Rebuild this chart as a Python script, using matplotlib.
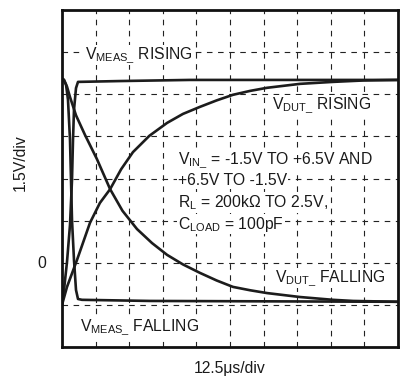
import matplotlib
matplotlib.use("Agg")
import matplotlib.pyplot as plt
import numpy as np

plt.rcParams['font.family'] = ['Liberation Sans', 'DejaVu Sans']
plt.rcParams['mathtext.fontset'] = 'custom'
plt.rcParams['mathtext.rm'] = 'Liberation Sans'

# time axis in microseconds, voltages in volts
t_meas_rise = [0, 0.74, 1.86, 2.98, 3.72, 4.09, 4.46, 5.21, 5.95, 21.6, 47.6, 125]
v_meas_rise = [-1.50, -0.97, 0.03, 1.35, 2.95, 4.37, 5.44, 6.22, 6.44, 6.47, 6.51, 6.51]

t_meas_fall = [0, 0.74, 1.49, 2.23, 2.98, 3.35, 3.72, 4.46, 5.21, 5.95, 7.44, 32.7, 125]
v_meas_fall = [6.56, 6.52, 6.35, 5.80, 4.37, 2.95, 1.52, 0.10, -0.97, -1.29, -1.32, -1.36, -1.39]

t_dut_fall = [0, 0.74, 1.86, 2.98, 5.21, 8.56, 13.0, 17.9, 22.5, 27.9, 33.5, 39.1, 45.0,
              51.3, 57.5, 63.6, 70.0, 76.3, 88.5, 100.8, 108.3, 125]
v_dut_fall = [6.56, 6.49, 6.27, 5.90, 5.25, 4.55, 3.69, 2.62, 1.85, 1.20, 0.70, 0.28, -0.06,
              -0.36, -0.63, -0.86, -0.98, -1.08, -1.22, -1.32, -1.36, -1.39]

t_dut_rise = [0, 1.86, 5.58, 10.4, 14.1, 17.9, 22.0, 26.4, 32.5, 39.1, 45.0, 51.3, 57.5,
              63.6, 70.0, 76.3, 88.5, 100.8, 112.0, 125]
v_dut_rise = [-1.50, -0.86, 0.10, 1.42, 2.13, 2.62, 3.33, 3.94, 4.52, 4.98, 5.30, 5.55, 5.78,
              5.98, 6.12, 6.23, 6.37, 6.44, 6.49, 6.51]

x_step = 12.5
y_step = 1.5

fig = plt.figure(figsize=(4.04, 3.79), dpi=100)
ax = fig.add_axes([62/404, 1 - 347/379, 336/404, 337/379])
ax.set_xlim(0, 125)
ax.set_ylim(-3, 9)

# dashed graticule
grid_kw = dict(color='#222222', lw=0.8, linestyle=(0, (5, 5)), zorder=1)
for gx in np.arange(x_step, 125, x_step):
    ax.axvline(gx, **grid_kw)
for gy in np.arange(-3 + y_step, 9, y_step):
    ax.axhline(gy, **grid_kw)

curve_kw = dict(color='#1c1c1c', lw=1.9, zorder=3, solid_joinstyle='round')
ax.plot(t_dut_fall, v_dut_fall, **curve_kw)
ax.plot(t_dut_rise, v_dut_rise, **curve_kw)
ax.plot(t_meas_fall, v_meas_fall, **curve_kw)
ax.plot(t_meas_rise, v_meas_rise, **curve_kw)

ax.set_xticks([])
ax.set_yticks([])
for s in ax.spines.values():
    s.set_linewidth(2.0)
    s.set_color('#111111')
    s.set_zorder(5)

fs = 11.3
box = dict(facecolor='white', edgecolor='none', pad=0.5)

labels = [
    (85, 55, r'V$_{\mathregular{MEAS\_}}$ RISING'),
    (272, 105, r'V$_{\mathregular{DUT\_}}$ RISING'),
    (178, 160, r'V$_{\mathregular{IN\_}}$ = -1.5V TO +6.5V AND'),
    (178, 181, '+6.5V TO -1.5V'),
    (178, 203, r'R$_{\mathregular{L}}$ = 200kΩ TO 2.5V,'),
    (178, 224, r'C$_{\mathregular{LOAD}}$ = 100pF'),
    (275, 278, r'V$_{\mathregular{DUT\_}}$ FALLING'),
    (80, 327, r'V$_{\mathregular{MEAS\_}}$ FALLING'),
]
for x, y, s in labels:
    fig.text(x / 404, 1 - y / 379, s, fontsize=fs, ha='left', va='center',
             color='#1a1a1a', bbox=box, zorder=6)

fig.text(42 / 404, 1 - 263 / 379, '0', fontsize=fs, ha='center', va='center', color='#1a1a1a')
fig.text(20 / 404, 1 - 163 / 379, '1.5V/div', fontsize=fs, rotation=90,
         ha='center', va='center', color='#1a1a1a')
fig.text(230 / 404, 1 - 369 / 379, '12.5μs/div', fontsize=fs, ha='center', va='center',
         color='#1a1a1a')

fig.savefig('out.png', dpi=100, facecolor='white')
